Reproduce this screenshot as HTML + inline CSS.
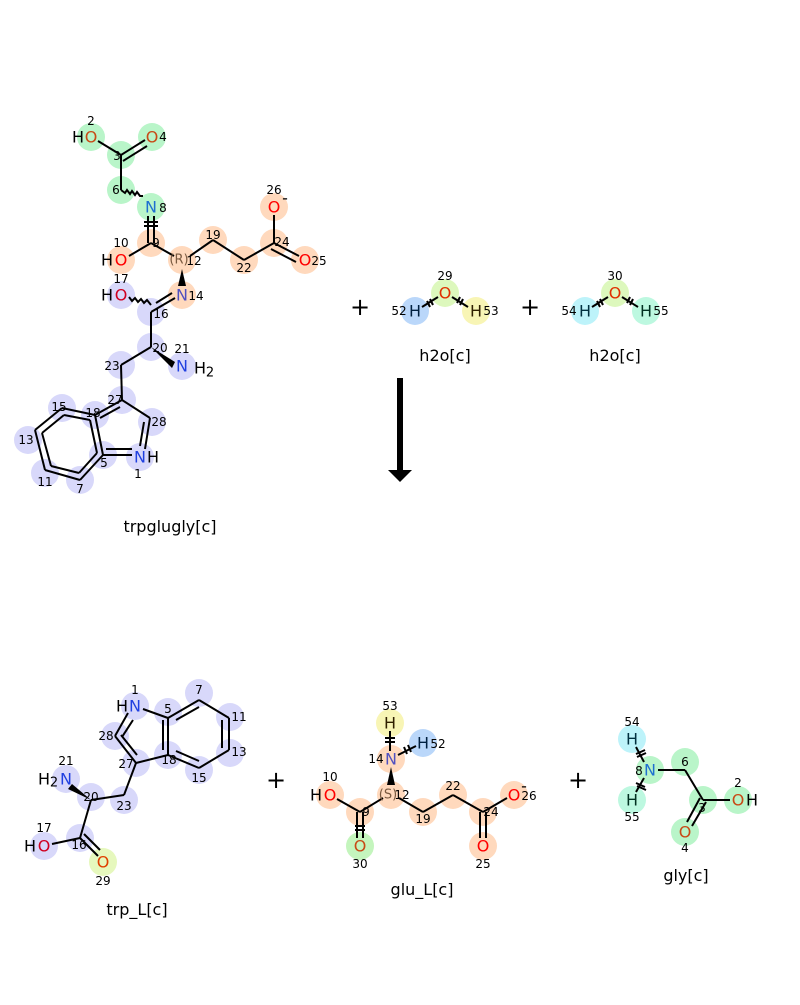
<!DOCTYPE html>
<html><head><meta charset="utf-8"><style>
html,body{margin:0;padding:0;background:#fff}
svg text{font-family:"DejaVu Sans","Liberation Sans",sans-serif}
svg circle{r:14px}
.a{font-size:16px;text-anchor:middle;dominant-baseline:central}
.n{font-size:12px;text-anchor:middle;dominant-baseline:central;fill:#000}
.l{font-size:16px;text-anchor:middle;fill:#000}
line,polyline,path{stroke:#000;stroke-width:2;fill:none}
</style></head><body>
<svg width="800" height="1000" viewBox="0 0 800 1000" xmlns="http://www.w3.org/2000/svg">
<g fill="#b9f5c9">
<circle cx="91" cy="137" r="14"/><circle cx="152" cy="137" r="14"/><circle cx="121" cy="155" r="14"/><circle cx="121" cy="190" r="14"/><circle cx="151" cy="207" r="14"/>
</g>
<g fill="#ffd9bd">
<circle cx="151" cy="243" r="14"/><circle cx="121" cy="260" r="14"/><circle cx="182" cy="260" r="14"/><circle cx="213" cy="240" r="14"/><circle cx="244" cy="260" r="14"/><circle cx="274" cy="243" r="14"/><circle cx="274" cy="207" r="14"/><circle cx="305" cy="260" r="14"/><circle cx="182" cy="295" r="14"/>
</g>
<g fill="#d8d8fa">
<circle cx="121" cy="295" r="14"/><circle cx="151" cy="312" r="14"/><circle cx="151" cy="347" r="14"/><circle cx="182" cy="366" r="14"/><circle cx="121" cy="365" r="14"/><circle cx="122" cy="400" r="14"/><circle cx="152" cy="422" r="14"/><circle cx="140" cy="457" r="14"/><circle cx="103" cy="455" r="14"/><circle cx="95" cy="415" r="14"/><circle cx="62" cy="408" r="14"/><circle cx="28" cy="440" r="14"/><circle cx="45" cy="473" r="14"/><circle cx="80" cy="480" r="14"/>
</g>
<line x1="98" y1="141" x2="121" y2="155"/>
<line x1="121" y1="155" x2="145" y2="140"/><line x1="123" y1="161" x2="147" y2="146"/>
<line x1="121" y1="155" x2="121" y2="190"/>
<path d="M121 190 l4 3 l2 -3 l3 4 l2 -3 l3 4 l2 -3 l3 4 l3 0" stroke-width="1.5"/>
<line x1="148" y1="216" x2="148" y2="243"/><line x1="154" y1="216" x2="154" y2="243"/>
<line x1="144" y1="222" x2="158" y2="222" stroke-width="1.5"/><line x1="144" y1="226" x2="158" y2="226" stroke-width="1.5"/>
<line x1="151" y1="243" x2="129" y2="256"/>
<line x1="151" y1="243" x2="174" y2="256"/>
<line x1="190" y1="256" x2="213" y2="240"/><line x1="213" y1="240" x2="244" y2="260"/><line x1="244" y1="260" x2="274" y2="243"/>
<line x1="274" y1="243" x2="274" y2="215"/>
<line x1="274" y1="243" x2="299" y2="256"/><line x1="271" y1="249" x2="296" y2="262"/>
<polygon points="182,269 178,286 186,286" fill="#000"/>
<line x1="175" y1="298" x2="151" y2="312"/><line x1="172" y1="293" x2="156" y2="303"/>
<path d="M129 297 l3 4 l3 -3 l3 4 l3 -3 l3 4 l3 -3 l4 5" stroke-width="1.5"/>
<line x1="151" y1="312" x2="151" y2="347"/>
<polygon points="151,347 175,362 172,368" fill="#000"/>
<line x1="151" y1="347" x2="121" y2="365"/><line x1="121" y1="365" x2="122" y2="400"/>
<line x1="122" y1="400" x2="150" y2="418"/><line x1="150" y1="418" x2="145" y2="449"/><line x1="144" y1="422" x2="140" y2="446"/>
<line x1="103" y1="455" x2="132" y2="455"/><line x1="106" y1="449" x2="132" y2="449"/>
<line x1="122" y1="400" x2="95" y2="415"/><line x1="120" y1="407" x2="100" y2="418"/>
<line x1="95" y1="415" x2="103" y2="455"/>
<line x1="95" y1="415" x2="62" y2="408"/><line x1="62" y1="408" x2="35" y2="430"/><line x1="35" y1="430" x2="45" y2="470"/><line x1="45" y1="470" x2="80" y2="480"/><line x1="80" y1="480" x2="103" y2="455"/>
<line x1="64" y1="415" x2="42" y2="433"/><line x1="42" y1="433" x2="51" y2="466"/><line x1="51" y1="466" x2="79" y2="473"/><line x1="79" y1="473" x2="97" y2="453"/><line x1="97" y1="453" x2="90" y2="420"/><line x1="90" y1="420" x2="64" y2="415"/>
<text class="a" x="78" y="137" fill="#000">H</text><text class="a" x="91" y="137" fill="#c84a16">O</text>
<text class="a" x="152" y="137" fill="#c84a16">O</text>
<text class="a" x="151" y="207" fill="#1e6fd0">N</text>
<text class="a" x="107" y="260" fill="#000">H</text><text class="a" x="121" y="260" fill="#f00">O</text>
<text class="a" x="179" y="260" fill="#7a5a40" style="font-size:13px">(R)</text>
<text class="a" x="274" y="207" fill="#f00">O</text><text class="a" x="285" y="198" fill="#000">-</text>
<text class="a" x="305" y="260" fill="#f00">O</text>
<text class="a" x="182" y="295" fill="#5050c0">N</text>
<text class="a" x="107" y="295" fill="#000">H</text><text class="a" x="121" y="295" fill="#d00020">O</text>
<text class="a" x="182" y="366" fill="#2040e0">N</text><text class="a" x="200" y="368" fill="#000">H</text><text class="a" x="210" y="373" fill="#000" style="font-size:13px">2</text>
<text class="a" x="140" y="457" fill="#2040e0">N</text><text class="a" x="153" y="457" fill="#000">H</text>
<text class="n" x="91" y="121">2</text><text class="n" x="163" y="137">4</text><text class="n" x="117" y="156">3</text><text class="n" x="116" y="190">6</text><text class="n" x="163" y="208">8</text>
<text class="n" x="156" y="243">9</text><text class="n" x="121" y="243">10</text><text class="n" x="194" y="261">12</text><text class="n" x="213" y="235">19</text><text class="n" x="244" y="268">22</text><text class="n" x="282" y="242">24</text><text class="n" x="274" y="190">26</text><text class="n" x="319" y="261">25</text>
<text class="n" x="196" y="296">14</text><text class="n" x="121" y="279">17</text><text class="n" x="161" y="314">16</text><text class="n" x="160" y="348">20</text><text class="n" x="182" y="349">21</text><text class="n" x="112" y="366">23</text><text class="n" x="115" y="400">27</text><text class="n" x="159" y="422">28</text><text class="n" x="138" y="474">1</text><text class="n" x="104" y="463">5</text><text class="n" x="93" y="413">18</text><text class="n" x="59" y="407">15</text><text class="n" x="26" y="440">13</text><text class="n" x="45" y="482">11</text><text class="n" x="80" y="489">7</text>
<text class="l" x="170" y="532">trpglugly[c]</text>

<text class="a" x="360" y="307" fill="#000" style="font-size:24px">+</text>
<text class="a" x="530" y="307" fill="#000" style="font-size:24px">+</text>
<text class="a" x="276" y="780" fill="#000" style="font-size:24px">+</text>
<text class="a" x="578" y="780" fill="#000" style="font-size:24px">+</text>

<circle cx="415" cy="311" r="14" fill="#bad7fa"/><circle cx="445" cy="293" r="14" fill="#ddf8bd"/><circle cx="476" cy="311" r="14" fill="#f8f5b5"/>
<line x1="422" y1="307" x2="438" y2="297"/><line x1="452" y1="297" x2="468" y2="307"/>
<line x1="427" y1="301" x2="430" y2="307" stroke-width="1.5"/><line x1="430" y1="299" x2="433" y2="305" stroke-width="1.5"/>
<line x1="457" y1="303" x2="460" y2="297" stroke-width="1.5"/><line x1="460" y1="305" x2="463" y2="299" stroke-width="1.5"/>
<text class="a" x="415" y="311" fill="#002040">H</text><text class="a" x="445" y="293" fill="#e03000">O</text><text class="a" x="476" y="311" fill="#302000">H</text>
<text class="n" x="445" y="276">29</text><text class="n" x="399" y="311">52</text><text class="n" x="491" y="311">53</text>
<text class="l" x="445" y="361">h2o[c]</text>
<circle cx="585" cy="311" r="14" fill="#bdf3fa"/><circle cx="615" cy="293" r="14" fill="#ddf8bd"/><circle cx="646" cy="311" r="14" fill="#bdf8e0"/>
<line x1="592" y1="307" x2="608" y2="297"/><line x1="622" y1="297" x2="638" y2="307"/>
<line x1="597" y1="301" x2="600" y2="307" stroke-width="1.5"/><line x1="600" y1="299" x2="603" y2="305" stroke-width="1.5"/>
<line x1="627" y1="303" x2="630" y2="297" stroke-width="1.5"/><line x1="630" y1="305" x2="633" y2="299" stroke-width="1.5"/>
<text class="a" x="585" y="311" fill="#003040">H</text><text class="a" x="615" y="293" fill="#e03000">O</text><text class="a" x="646" y="311" fill="#003020">H</text>
<text class="n" x="615" y="276">30</text><text class="n" x="569" y="311">54</text><text class="n" x="661" y="311">55</text>
<text class="l" x="615" y="361">h2o[c]</text>

<rect x="397" y="378" width="6" height="94" fill="#000"/>
<polygon points="388,470 412,470 400,482" fill="#000"/>

<g fill="#d8d8fa">
<circle cx="135" cy="706" r="14"/><circle cx="168" cy="712" r="14"/><circle cx="199" cy="693" r="14"/><circle cx="230" cy="717" r="14"/><circle cx="230" cy="753" r="14"/><circle cx="199" cy="770" r="14"/><circle cx="168" cy="755" r="14"/><circle cx="136" cy="763" r="14"/><circle cx="115" cy="736" r="14"/><circle cx="124" cy="800" r="14"/><circle cx="91" cy="797" r="14"/><circle cx="66" cy="779" r="14"/><circle cx="80" cy="838" r="14"/><circle cx="44" cy="846" r="14"/>
</g>
<circle cx="103" cy="862" r="14" fill="#e6f8bd"/>
<line x1="143" y1="709" x2="168" y2="718"/><line x1="128" y1="713" x2="115" y2="736"/><line x1="133" y1="720" x2="122" y2="737"/>
<line x1="115" y1="736" x2="136" y2="763"/><line x1="121" y1="735" x2="137" y2="755"/>
<line x1="136" y1="763" x2="168" y2="755"/><line x1="168" y1="755" x2="168" y2="718"/><line x1="163" y1="750" x2="163" y2="720"/>
<line x1="168" y1="718" x2="199" y2="700"/><line x1="199" y1="700" x2="229" y2="718"/><line x1="229" y1="718" x2="229" y2="750"/><line x1="229" y1="750" x2="199" y2="768"/><line x1="199" y1="768" x2="168" y2="755"/>
<line x1="176" y1="720" x2="199" y2="707"/><line x1="222" y1="720" x2="222" y2="748"/><line x1="199" y1="761" x2="176" y2="751"/>
<line x1="136" y1="763" x2="124" y2="795"/><line x1="124" y1="795" x2="91" y2="800"/>
<polygon points="91,800 72,784 68,789" fill="#000"/>
<line x1="91" y1="800" x2="80" y2="838"/><line x1="80" y1="838" x2="52" y2="844"/>
<line x1="80" y1="838" x2="98" y2="856"/><line x1="84" y1="834" x2="100" y2="850"/>
<text class="a" x="122" y="706" fill="#000">H</text><text class="a" x="135" y="706" fill="#2040e0">N</text>
<text class="a" x="44" y="779" fill="#000">H</text><text class="a" x="54" y="783" fill="#000" style="font-size:13px">2</text><text class="a" x="66" y="779" fill="#2040e0">N</text>
<text class="a" x="30" y="846" fill="#000">H</text><text class="a" x="44" y="846" fill="#d00020">O</text>
<text class="a" x="103" y="862" fill="#e04000">O</text>
<text class="n" x="135" y="690">1</text><text class="n" x="168" y="709">5</text><text class="n" x="199" y="690">7</text><text class="n" x="239" y="717">11</text><text class="n" x="239" y="752">13</text><text class="n" x="199" y="778">15</text><text class="n" x="169" y="760">18</text><text class="n" x="126" y="764">27</text><text class="n" x="106" y="736">28</text><text class="n" x="124" y="806">23</text><text class="n" x="91" y="797">20</text><text class="n" x="66" y="761">21</text><text class="n" x="79" y="845">16</text><text class="n" x="44" y="828">17</text><text class="n" x="103" y="881">29</text>
<text class="l" x="137" y="915">trp_L[c]</text>

<circle cx="390" cy="723" r="14" fill="#f8f5b5"/><circle cx="423" cy="743" r="14" fill="#bad7fa"/>
<g fill="#ffd9bd">
<circle cx="391" cy="759" r="14"/><circle cx="391" cy="795" r="14"/><circle cx="330" cy="795" r="14"/><circle cx="360" cy="812" r="14"/><circle cx="423" cy="812" r="14"/><circle cx="453" cy="795" r="14"/><circle cx="483" cy="812" r="14"/><circle cx="483" cy="846" r="14"/><circle cx="514" cy="795" r="14"/>
</g>
<circle cx="360" cy="846" r="14" fill="#c4f5bd"/>
<line x1="390" y1="731" x2="390" y2="751"/><line x1="385" y1="738" x2="395" y2="738" stroke-width="1.5"/><line x1="385" y1="742" x2="395" y2="742" stroke-width="1.5"/>
<line x1="398" y1="755" x2="416" y2="746"/><line x1="404" y1="747" x2="407" y2="754" stroke-width="1.5"/><line x1="408" y1="745" x2="411" y2="752" stroke-width="1.5"/>
<polygon points="391,767 387,785 395,785" fill="#000"/>
<line x1="383" y1="798" x2="360" y2="812"/><line x1="360" y1="812" x2="337" y2="799"/>
<line x1="357" y1="812" x2="357" y2="838"/><line x1="363" y1="812" x2="363" y2="838"/><line x1="355" y1="826" x2="365" y2="826" stroke-width="1.5"/><line x1="355" y1="830" x2="365" y2="830" stroke-width="1.5"/>
<line x1="399" y1="798" x2="423" y2="812"/><line x1="423" y1="812" x2="453" y2="795"/><line x1="453" y1="795" x2="483" y2="812"/><line x1="483" y1="812" x2="507" y2="798"/>
<line x1="480" y1="812" x2="480" y2="838"/><line x1="486" y1="812" x2="486" y2="838"/>
<text class="a" x="390" y="723" fill="#302000">H</text><text class="a" x="423" y="743" fill="#002040">H</text>
<text class="a" x="391" y="759" fill="#5050c0">N</text>
<text class="a" x="388" y="795" fill="#7a5a40" style="font-size:13px">(S)</text>
<text class="a" x="316" y="795" fill="#000">H</text><text class="a" x="330" y="795" fill="#f00">O</text>
<text class="a" x="360" y="846" fill="#c84a16">O</text>
<text class="a" x="483" y="846" fill="#f00">O</text>
<text class="a" x="514" y="795" fill="#f00">O</text><text class="a" x="524" y="786" fill="#000">-</text>
<text class="n" x="390" y="706">53</text><text class="n" x="438" y="744">52</text><text class="n" x="376" y="759">14</text><text class="n" x="402" y="795">12</text><text class="n" x="330" y="777">10</text><text class="n" x="366" y="812">9</text><text class="n" x="360" y="864">30</text><text class="n" x="423" y="819">19</text><text class="n" x="453" y="786">22</text><text class="n" x="491" y="812">24</text><text class="n" x="483" y="864">25</text><text class="n" x="529" y="796">26</text>
<text class="l" x="422" y="895">glu_L[c]</text>

<circle cx="632" cy="739" r="14" fill="#bdf3fa"/><circle cx="632" cy="800" r="14" fill="#bdf8e0"/>
<g fill="#b9f5c9">
<circle cx="650" cy="770" r="14"/><circle cx="685" cy="762" r="14"/><circle cx="703" cy="800" r="14"/><circle cx="738" cy="800" r="14"/><circle cx="685" cy="832" r="14"/>
</g>
<line x1="636" y1="747" x2="644" y2="762"/><line x1="636" y1="792" x2="644" y2="778"/>
<line x1="636" y1="754" x2="645" y2="750" stroke-width="1.5"/><line x1="637" y1="757" x2="646" y2="753" stroke-width="1.5"/>
<line x1="636" y1="783" x2="645" y2="787" stroke-width="1.5"/><line x1="637" y1="786" x2="646" y2="790" stroke-width="1.5"/>
<line x1="658" y1="770" x2="685" y2="770"/><line x1="685" y1="770" x2="703" y2="800"/><line x1="703" y1="800" x2="730" y2="800"/>
<line x1="700" y1="798" x2="687" y2="822"/><line x1="706" y1="802" x2="692" y2="826"/>
<text class="a" x="632" y="739" fill="#003040">H</text><text class="a" x="632" y="800" fill="#003020">H</text>
<text class="a" x="650" y="770" fill="#1e6fd0">N</text>
<text class="a" x="738" y="800" fill="#c84a16">O</text><text class="a" x="752" y="800" fill="#000">H</text>
<text class="a" x="685" y="832" fill="#c84a16">O</text>
<text class="n" x="632" y="722">54</text><text class="n" x="632" y="817">55</text><text class="n" x="639" y="771">8</text><text class="n" x="685" y="762">6</text><text class="n" x="702" y="808">3</text><text class="n" x="738" y="783">2</text><text class="n" x="685" y="848">4</text>
<text class="l" x="686" y="881">gly[c]</text>
</svg>
</body></html>
